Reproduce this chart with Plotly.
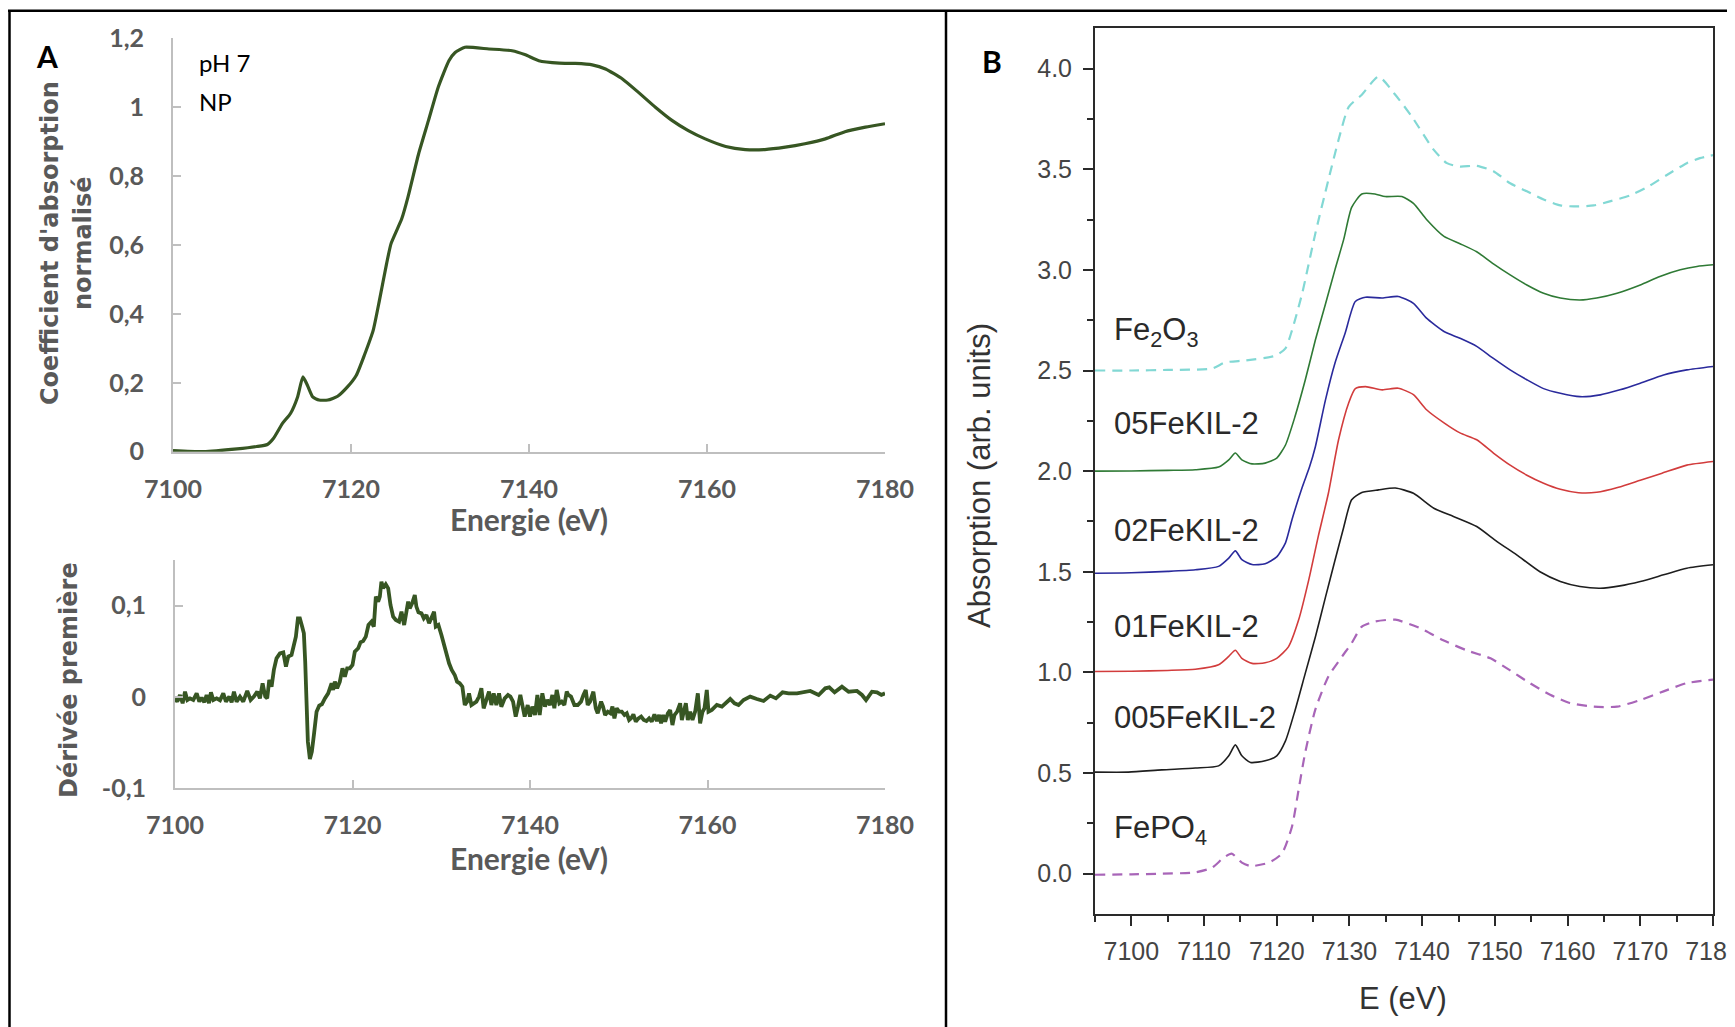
import plotly.graph_objects as go

# ---------------- Panel A (top): normalised XANES, pH 7 NP ----------------
energy_A = [7100, 7103.4, 7107.2, 7109.4, 7110.6, 7111.3, 7112.3, 7113.2, 7114.0, 7114.6, 7115.1,
            7115.7, 7116.4, 7117.4, 7118.5, 7119.6, 7120.6, 7121.5, 7122.5, 7123.2, 7124.0, 7124.5,
            7125.7, 7126.4, 7127.6, 7128.7, 7129.8, 7131.0, 7131.7, 7132.8, 7135.5, 7138.1, 7139.6,
            7141.1, 7143.4, 7145.2, 7147.1, 7148.6, 7150.5, 7152.3, 7154.2, 7156.1, 7157.9, 7159.8,
            7162.1, 7164.3, 7166.5, 7168.8, 7171.0, 7173.3, 7175.5, 7177.8, 7180]
absorb_A = [0.003, 0.0, 0.008, 0.015, 0.021, 0.039, 0.082, 0.111, 0.159, 0.217, 0.193,
            0.159, 0.150, 0.150, 0.161, 0.188, 0.222, 0.280, 0.353, 0.440, 0.546, 0.604,
            0.676, 0.739, 0.865, 0.961, 1.058, 1.135, 1.159, 1.174, 1.169, 1.164, 1.152,
            1.135, 1.128, 1.127, 1.123, 1.111, 1.082, 1.043, 1.000, 0.961, 0.932, 0.908,
            0.886, 0.877, 0.877, 0.884, 0.894, 0.908, 0.929, 0.942, 0.952]

# ---------------- Panel A (bottom): first derivative ----------------
energy_D = [7100.00, 7100.26, 7100.56, 7100.86, 7101.13, 7101.39, 7101.69, 7102.06, 7102.44, 7102.74,
            7103.00, 7103.30, 7103.56, 7103.83, 7104.05, 7104.32, 7104.69, 7105.07, 7105.44, 7105.74,
            7106.12, 7106.38, 7106.64, 7106.94, 7107.32, 7107.69, 7108.14, 7108.52, 7108.89, 7109.27,
            7109.57, 7109.87, 7110.17, 7110.39, 7110.62, 7110.88, 7111.14, 7111.44, 7111.82, 7112.20,
            7112.50, 7112.76, 7113.13, 7113.40, 7113.62, 7113.85, 7114.07, 7114.33, 7114.52, 7114.67,
            7114.82, 7114.97, 7115.20, 7115.42, 7115.65, 7115.95, 7116.25, 7116.55, 7116.89, 7117.26,
            7117.64, 7117.82, 7118.01, 7118.27, 7118.57, 7118.87, 7119.14, 7119.40, 7119.70, 7120.00,
            7120.26, 7120.64, 7120.90, 7121.20, 7121.50, 7121.80, 7122.14, 7122.40, 7122.63, 7122.89,
            7123.08, 7123.26, 7123.45, 7123.75, 7124.02, 7124.28, 7124.58, 7124.88, 7125.25, 7125.52,
            7125.82, 7126.08, 7126.27, 7126.45, 7126.72, 7127.02, 7127.20, 7127.43, 7127.77, 7128.03,
            7128.33, 7128.63, 7128.89, 7129.19, 7129.38, 7129.68, 7130.02, 7130.28, 7130.58, 7130.88,
            7131.18, 7131.52, 7131.78, 7132.08, 7132.38, 7132.65, 7132.91, 7133.13, 7133.40, 7133.66,
            7133.96, 7134.26, 7134.52, 7134.78, 7135.08, 7135.38, 7135.65, 7135.91, 7136.21, 7136.51,
            7136.77, 7137.15, 7137.52, 7137.79, 7138.09, 7138.39, 7138.65, 7138.91, 7139.14, 7139.40,
            7139.74, 7140.00, 7140.26, 7140.56, 7140.83, 7141.09, 7141.39, 7141.69, 7141.95, 7142.26,
            7142.52, 7142.74, 7143.01, 7143.31, 7143.57, 7143.87, 7144.14, 7144.32, 7144.62, 7145.00,
            7145.38, 7145.75, 7146.02, 7146.28, 7146.50, 7146.77, 7147.14, 7147.41, 7147.63, 7148.01,
            7148.23, 7148.46, 7148.76, 7149.06, 7149.29, 7149.51, 7149.77, 7150.04, 7150.34, 7150.64,
            7150.90, 7151.17, 7151.39, 7151.65, 7151.92, 7152.22, 7152.52, 7152.82, 7153.12, 7153.42,
            7153.72, 7154.02, 7154.29, 7154.55, 7154.77, 7155.00, 7155.23, 7155.53, 7155.79, 7156.05,
            7156.28, 7156.58, 7156.92, 7157.11, 7157.33, 7157.56, 7157.78, 7158.05, 7158.31, 7158.61,
            7158.91, 7159.17, 7159.44, 7159.66, 7159.92, 7160.11, 7160.49, 7161.05, 7161.62, 7161.99,
            7162.56, 7163.05, 7163.50, 7164.06, 7164.81, 7165.56, 7166.32, 7167.07, 7167.71, 7168.46,
            7169.14, 7170.08, 7170.83, 7171.58, 7172.52, 7173.27, 7173.72, 7174.32, 7175.15, 7175.90,
            7176.84, 7177.41, 7177.86, 7178.53, 7179.10, 7179.59, 7180.00]
deriv_D = [-0.0015, -0.0051, 0.0022, -0.0069, 0.0058, -0.0033, -0.0015, -0.0033, 0.0040, -0.0051,
           -0.0007, -0.0058, 0.0022, -0.0069, 0.0051, -0.0033, -0.0015, -0.0036, 0.0040, -0.0051,
           0.0004, -0.0058, 0.0058, -0.0051, 0.0004, -0.0051, 0.0066, -0.0033, 0.0004, 0.0058,
           -0.0015, 0.0150, 0.0004, -0.0015, 0.0186, 0.0113, 0.0296, 0.0423, 0.0478, 0.0489,
           0.0332, 0.0442, 0.0460, 0.0577, 0.0661, 0.0861, 0.0861, 0.0770, 0.0697, 0.0387,
           -0.0088, -0.0489, -0.0679, -0.0599, -0.0416, -0.0161, -0.0095, -0.0080, -0.0015, 0.0040,
           0.0150, 0.0077, 0.0168, 0.0095, 0.0168, 0.0314, 0.0223, 0.0314, 0.0314, 0.0350,
           0.0496, 0.0533, 0.0599, 0.0613, 0.0661, 0.0788, 0.0825, 0.0770, 0.1099, 0.1044,
           0.1099, 0.1263, 0.1190, 0.1234, 0.1190, 0.1007, 0.0880, 0.0843, 0.0825, 0.0934,
           0.0788, 0.0934, 0.1044, 0.0971, 0.1026, 0.1117, 0.0989, 0.0927, 0.0916, 0.0861,
           0.0898, 0.0807, 0.0880, 0.0934, 0.0770, 0.0788, 0.0679, 0.0588, 0.0460, 0.0369,
           0.0296, 0.0241, 0.0168, 0.0150, 0.0113, -0.0088, -0.0051, 0.0040, -0.0088, -0.0069,
           -0.0051, 0.0004, 0.0095, -0.0124, -0.0015, 0.0058, -0.0088, 0.0040, -0.0088, 0.0040,
           -0.0106, -0.0015, 0.0022, 0.0004, -0.0051, -0.0215, -0.0106, 0.0022, -0.0088, -0.0215,
           -0.0088, -0.0215, -0.0106, -0.0197, 0.0022, -0.0197, 0.0040, -0.0106, -0.0033, -0.0088,
           0.0022, -0.0124, 0.0077, -0.0069, -0.0051, -0.0088, 0.0058, 0.0022, 0.0004, -0.0088,
           -0.0088, -0.0051, 0.0022, 0.0077, -0.0088, -0.0051, 0.0058, -0.0124, -0.0179, -0.0051,
           -0.0106, -0.0197, -0.0161, -0.0179, -0.0106, -0.0234, -0.0124, -0.0161, -0.0161, -0.0197,
           -0.0179, -0.0252, -0.0234, -0.0190, -0.0270, -0.0234, -0.0215, -0.0252, -0.0263, -0.0234,
           -0.0270, -0.0190, -0.0263, -0.0197, -0.0288, -0.0197, -0.0270, -0.0179, -0.0142, -0.0307,
           -0.0197, -0.0161, -0.0069, -0.0252, -0.0161, -0.0069, -0.0252, -0.0161, -0.0252, -0.0161,
           0.0040, -0.0288, -0.0161, -0.0124, 0.0077, -0.0161, -0.0142, -0.0088, -0.0106, -0.0069,
           -0.0022, -0.0069, -0.0088, -0.0033, 0.0004, -0.0022, -0.0044, 0.0015, -0.0015, 0.0051,
           0.0040, 0.0040, 0.0058, 0.0066, 0.0022, 0.0095, 0.0106, 0.0051, 0.0113, 0.0058,
           0.0066, 0.0022, -0.0033, 0.0058, 0.0051, 0.0022, 0.0040]

# ---------------- Panel B: Fe K-edge XANES references and samples ----------------
energy_Fe2O3 = [7095, 7100, 7105, 7111.1, 7112.9, 7115.7, 7119.8, 7121.2, 7122.1, 7123.5, 7125.3, 7127.1,
                7128.5, 7129.9, 7131.7, 7134.0, 7136.3, 7138.6, 7141.6, 7143.4, 7145.2, 7147.5, 7149.8,
                7152.1, 7154.4, 7156.7, 7159.0, 7161.3, 7163.6, 7165.8, 7168.6, 7170.9, 7173.6, 7176.4,
                7178.2, 7180]
abs_Fe2O3 = [2.50, 2.50, 2.503, 2.51, 2.54, 2.55, 2.573, 2.61, 2.70, 2.884, 3.18, 3.447,
             3.646, 3.81, 3.87, 3.96, 3.87, 3.76, 3.596, 3.53, 3.513, 3.517, 3.49,
             3.43, 3.39, 3.35, 3.32, 3.315, 3.32, 3.34, 3.37, 3.41, 3.47, 3.53,
             3.555, 3.57]

energy_05 = [7095, 7100, 7105, 7108.8, 7112.0, 7113.4, 7114.3, 7115.2, 7116.6, 7118.4, 7120.0, 7121.2,
             7122.5, 7123.9, 7125.3, 7126.7, 7128.0, 7129.2, 7130.3, 7131.7, 7133.5, 7134.9, 7137.2,
             7138.8, 7140.6, 7143.0, 7145.2, 7147.5, 7149.8, 7152.1, 7154.4, 7156.7, 7159.0, 7161.7,
             7164.0, 7166.8, 7170.0, 7172.7, 7175.5, 7177.8, 7180]
abs_05 = [2.00, 2.001, 2.004, 2.007, 2.02, 2.056, 2.09, 2.056, 2.036, 2.04, 2.065, 2.13,
          2.27, 2.45, 2.65, 2.83, 3.0, 3.15, 3.31, 3.377, 3.377, 3.364, 3.364,
          3.33, 3.25, 3.166, 3.13, 3.09, 3.03, 2.975, 2.925, 2.884, 2.86, 2.85,
          2.86, 2.884, 2.925, 2.967, 3.0, 3.017, 3.025]

energy_02 = [7095, 7100, 7105, 7108.8, 7112.0, 7113.4, 7114.3, 7115.2, 7116.6, 7118.4, 7120.0, 7121.2,
             7122.1, 7123.5, 7124.5, 7125.3, 7126.7, 7128.0, 7129.4, 7130.8, 7132.2, 7134.5, 7136.7,
             7138.8, 7140.6, 7143.0, 7145.2, 7147.5, 7149.8, 7152.1, 7154.4, 7156.7, 7159.0, 7161.7,
             7164.5, 7167.2, 7170.0, 7173.2, 7176.4, 7180]
abs_02 = [1.493, 1.495, 1.502, 1.51, 1.527, 1.568, 1.604, 1.56, 1.536, 1.54, 1.574, 1.644,
          1.76, 1.92, 2.02, 2.12, 2.354, 2.536, 2.685, 2.843, 2.864, 2.86, 2.868,
          2.834, 2.76, 2.694, 2.66, 2.62, 2.56, 2.503, 2.454, 2.41, 2.387, 2.37,
          2.379, 2.404, 2.437, 2.478, 2.503, 2.52]

energy_01 = [7095, 7100, 7105, 7108.8, 7112.0, 7113.4, 7114.3, 7115.2, 7116.6, 7118.4, 7120.0, 7121.6,
             7123.0, 7124.4, 7125.7, 7127.1, 7128.5, 7129.9, 7130.8, 7132.2, 7134.5, 7136.7, 7138.8,
             7140.6, 7143.0, 7145.2, 7147.5, 7149.8, 7152.1, 7154.4, 7156.7, 7159.0, 7161.5, 7164.0,
             7167.0, 7170.0, 7173.0, 7176.4, 7180]
abs_01 = [1.005, 1.006, 1.01, 1.016, 1.038, 1.08, 1.11, 1.07, 1.045, 1.048, 1.07, 1.127,
          1.26, 1.46, 1.675, 1.89, 2.156, 2.34, 2.41, 2.42, 2.404, 2.412, 2.38,
          2.305, 2.24, 2.19, 2.156, 2.09, 2.03, 1.98, 1.94, 1.91, 1.893, 1.895,
          1.92, 1.955, 1.99, 2.03, 2.048]

energy_005 = [7095, 7099.6, 7104.2, 7108.8, 7112.0, 7113.4, 7114.3, 7115.2, 7116.4, 7118.4, 7120.0,
              7121.2, 7122.5, 7123.9, 7125.3, 7126.7, 7128.0, 7129.2, 7130.3, 7131.7, 7134.0, 7136.3,
              7138.8, 7141.6, 7144.3, 7147.5, 7150.3, 7153.0, 7156.2, 7159.0, 7161.7, 7164.5, 7167.2,
              7170.0, 7173.2, 7176.4, 7180]
abs_005 = [0.505, 0.505, 0.516, 0.525, 0.536, 0.586, 0.64, 0.586, 0.553, 0.561, 0.586,
           0.66, 0.81, 0.993, 1.175, 1.374, 1.556, 1.72, 1.858, 1.894, 1.907, 1.916,
           1.89, 1.816, 1.775, 1.725, 1.65, 1.584, 1.50, 1.452, 1.427, 1.418, 1.43,
           1.452, 1.485, 1.518, 1.535]

energy_FePO4 = [7095, 7100, 7104.2, 7108.8, 7111.1, 7112.7, 7113.8, 7115.2, 7116.4, 7118.9, 7120.7,
                7122.1, 7123.0, 7123.9, 7125.3, 7127.1, 7129.0, 7130.3, 7131.7, 7133.5, 7136.3, 7139.7,
                7142.9, 7146.1, 7149.4, 7152.1, 7154.8, 7157.6, 7160.3, 7163.6, 7166.8, 7170.0, 7173.2,
                7176.4, 7180]
abs_FePO4 = [-0.005, -0.003, 0.0, 0.007, 0.03, 0.08, 0.1, 0.055, 0.038, 0.055, 0.1,
             0.235, 0.417, 0.6, 0.815, 0.98, 1.08, 1.146, 1.228, 1.253, 1.262, 1.22,
             1.16, 1.11, 1.07, 1.01, 0.947, 0.889, 0.848, 0.83, 0.83, 0.863, 0.906,
             0.947, 0.964]

series_B = [
    ("Fe2O3", energy_Fe2O3, abs_Fe2O3, "#82D8D4", "10px,7px", 2.2),
    ("05FeKIL-2", energy_05, abs_05, "#2F7A35", "solid", 1.6),
    ("02FeKIL-2", energy_02, abs_02, "#2A2A9C", "solid", 1.6),
    ("01FeKIL-2", energy_01, abs_01, "#D23C3C", "solid", 1.6),
    ("005FeKIL-2", energy_005, abs_005, "#1E1E1E", "solid", 1.6),
    ("FePO4", energy_FePO4, abs_FePO4, "#A865B8", "10px,7px", 2.2),
]
label_text_B = ["Fe<sub>2</sub>O<sub>3</sub>", "05FeKIL-2", "02FeKIL-2", "01FeKIL-2", "005FeKIL-2",
                "FePO<sub>4</sub>"]
label_y_B = [2.69, 2.235, 1.703, 1.226, 0.774, 0.218]

xticks_A = [7100, 7120, 7140, 7160, 7180]
yticks_A = [0, 0.2, 0.4, 0.6, 0.8, 1.0, 1.2]
yticktext_A = ["0", "0,2", "0,4", "0,6", "0,8", "1", "1,2"]
yticks_D = [-0.1, 0, 0.1]
yticktext_D = ["-0,1", "0", "0,1"]

# The page body adds an 8 px margin: the figure is sized to fill the rest of the window.
OFF = 8
W, H = 1735 - OFF, 1027 - OFF


def px(x):
    return (x - OFF) / W


def py(y):
    return 1 - (y - OFF) / H


GREEN = "#375623"
GRAYAX = "#BFBFBF"
GRAYTXT = "#595959"

fig = go.Figure()

fig.add_trace(go.Scatter(x=energy_A, y=absorb_A, mode="lines", xaxis="x", yaxis="y",
                         line=dict(color=GREEN, width=3.2, shape="spline", smoothing=0.5),
                         showlegend=False, hoverinfo="skip"))
fig.add_trace(go.Scatter(x=energy_D, y=deriv_D, mode="lines", xaxis="x2", yaxis="y2",
                         line=dict(color=GREEN, width=3.8), showlegend=False, hoverinfo="skip"))
for name, ex, ab, col, dash, w in series_B:
    fig.add_trace(go.Scatter(x=ex, y=ab, mode="lines", xaxis="x3", yaxis="y3", name=name,
                             line=dict(color=col, width=w, dash=dash, shape="spline", smoothing=0.6),
                             showlegend=False, hoverinfo="skip"))

tickfA = dict(family="Lato", size=25, color=GRAYTXT, weight="bold")
common_A = dict(showgrid=False, zeroline=False, showline=True, linecolor=GRAYAX, linewidth=2,
                ticks="inside", ticklen=8, tickcolor=GRAYAX, tickwidth=2, tickfont=tickfA,
                automargin=False)

tickfB = dict(family="Liberation Sans", size=25, color="#444444")
common_B = dict(showgrid=False, zeroline=False, showline=True, linecolor="#2A2A2A", linewidth=2,
                mirror=True, ticks="outside", ticklen=10, tickwidth=1.5, tickcolor="#2A2A2A",
                tickfont=tickfB, automargin=False)

fig.update_layout(
    template="none",
    width=W, height=H, margin=dict(l=0, r=0, t=0, b=0, pad=0, autoexpand=False),
    paper_bgcolor="white", plot_bgcolor="white",
    xaxis=dict(domain=[px(173), px(885)], range=[7100, 7180], anchor="y",
               tickvals=xticks_A, ticklabelstandoff=14, **common_A),
    yaxis=dict(domain=[py(451.7), py(38.3)], range=[0, 1.2], anchor="x",
               tickvals=yticks_A, ticktext=yticktext_A, ticklabelstandoff=22, **common_A),
    xaxis2=dict(domain=[px(175), px(885)], range=[7100, 7180], anchor="y2",
                tickvals=xticks_A, ticklabelstandoff=14, **common_A),
    yaxis2=dict(domain=[py(788.3), py(560)], range=[-0.1, 0.15], anchor="x2",
                tickvals=yticks_D, ticktext=yticktext_D, ticklabelstandoff=22, **common_A),
    xaxis3=dict(domain=[px(1095), px(1713)], range=[7095, 7180], anchor="y3",
                tick0=7100, dtick=10, ticklabelstandoff=4, ticklabeloverflow="allow",
                minor=dict(ticks="outside", ticklen=6, dtick=5, tick0=7095, tickcolor="#2A2A2A",
                           tickwidth=1.5),
                **common_B),
    yaxis3=dict(domain=[py(914), py(28.3)], range=[-0.2, 4.2], anchor="x3",
                tick0=0, dtick=0.5, tickformat=".1f", ticklabelstandoff=6,
                minor=dict(ticks="outside", ticklen=6, dtick=0.25, tick0=0, tickcolor="#2A2A2A",
                           tickwidth=1.5),
                **common_B),
)

ann = []


def add(text, x, y, size, family, color="#000000", bold=False, angle=0, xanchor="center"):
    ann.append(dict(text=text, x=px(x), y=py(y), xref="paper", yref="paper", showarrow=False,
                    textangle=angle, xanchor=xanchor, yanchor="middle",
                    font=dict(size=size, family=family, color=color,
                              weight="bold" if bold else "normal")))


# Panel A texts
add("A", 47, 56, 30, "Lato", bold=True)
add("pH 7", 197, 62, 24, "Lato", xanchor="left")
add("NP", 197, 102, 24, "Lato", xanchor="left")
add("Coefficient d'absorption", 50, 243, 24, "DejaVu Sans", GRAYTXT, bold=True, angle=-90)
add("normalisé", 83, 243, 24, "DejaVu Sans", GRAYTXT, bold=True, angle=-90)
add("Energie (eV)", 529, 519, 30, "Lato", GRAYTXT, bold=True)
add("Dérivée première", 69, 680, 24, "DejaVu Sans", GRAYTXT, bold=True, angle=-90)
add("Energie (eV)", 529, 858, 30, "Lato", GRAYTXT, bold=True)
# Panel B texts
add("B", 992, 61, 30, "Lato", bold=True)
add("Absorption (arb. units)", 979, 476, 31, "Liberation Sans", "#333333", angle=-90)
add("E (eV)", 1403, 998, 31, "Liberation Sans", "#333333")

for txt, yv in zip(label_text_B, label_y_B):
    ann.append(dict(text=txt, x=7097.4, y=yv, xref="x3", yref="y3", showarrow=False,
                    xanchor="left", yanchor="middle",
                    font=dict(size=31, family="Liberation Sans", color="#2A2A2A")))

fig.update_layout(annotations=ann)

# Frame lines of the composite figure
shapes = [
    dict(type="line", xref="paper", yref="paper", x0=0, x1=1, y0=py(10.7), y1=py(10.7),
         line=dict(color="black", width=2.5)),
    dict(type="line", xref="paper", yref="paper", x0=px(9.5), x1=px(9.5), y0=0, y1=py(10.7),
         line=dict(color="black", width=2.5)),
    dict(type="line", xref="paper", yref="paper", x0=px(946), x1=px(946), y0=0, y1=py(10.7),
         line=dict(color="black", width=2.5)),
]
fig.update_layout(shapes=shapes)

fig.write_html("out.html")
